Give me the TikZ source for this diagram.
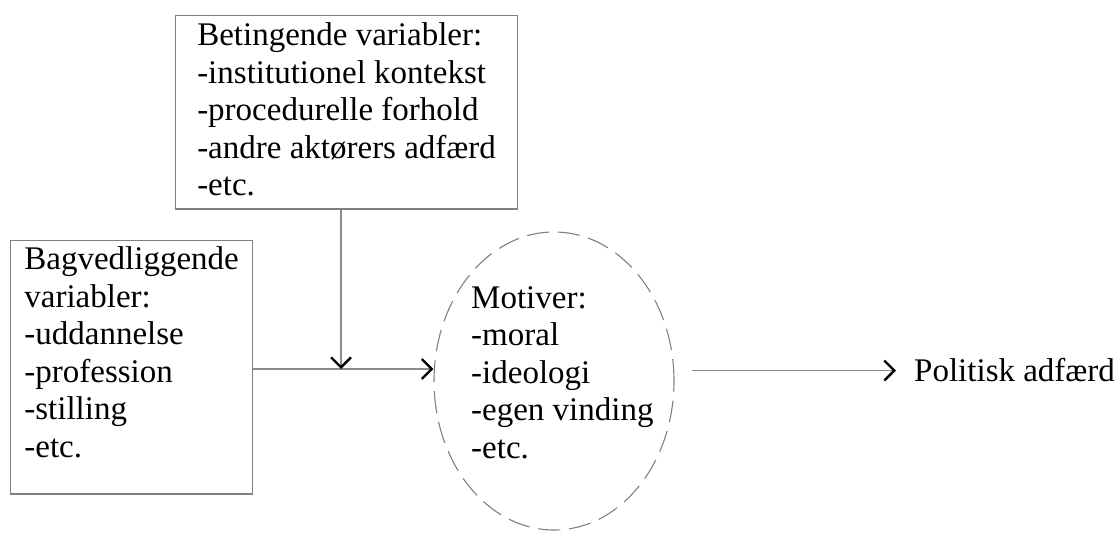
\documentclass[tikz,border=0pt]{standalone}
\usepackage{fontspec}
\setmainfont{Liberation Serif}
\usetikzlibrary{arrows.meta,shapes.geometric}

\tikzset{
  txt/.style={font=\fontsize{33}{37.5}\selectfont, text=black, align=left},
  box/.style={txt, draw=black!50, line width=1.2pt, anchor=north west},
  conn/.style={draw=black!45, line width=1.2pt,
    -{Straight Barb[length=10pt, width=20pt, line width=2.4pt, color=black]}},
  motivring/.style={ellipse, draw=black!50, line width=1.1pt,
    dash pattern=on 22pt off 9pt, minimum width=240pt, minimum height=298pt, inner sep=0pt},
}

\begin{document}
\begin{tikzpicture}[x=1pt, y=-1pt]
  \useasboundingbox (0,0) rectangle (1117,534);

  % conditioning variables
  \node[box, minimum width=342pt, inner xsep=20pt, inner ysep=7.5pt] (tbox) at (175,15)
    {Betingende variabler:\\-institutionel kontekst\\-procedurelle forhold\\-andre aktørers adfærd\\-etc.\rule[-5.5pt]{0pt}{5.5pt}};

  % background variables
  \node[box, minimum width=242pt, inner xsep=12pt, inner ysep=6.5pt] (lbox) at (10,240)
    {Bagvedliggende\\variabler:\\-uddannelse\\-profession\\-stilling\\-etc.\rule[-30pt]{0pt}{30pt}};

  % motives
  \node[motivring] (ell) at (554,381) {};
  \node[txt, inner sep=0pt, anchor=north west] (mtxt) at (471,286)
    {Motiver:\\-moral\\-ideologi\\-egen vinding\\-etc.};

  % outcome
  \node[txt, inner sep=0pt, anchor=base west] (pol) at (914,382) {Politisk adfærd};

  % junction where the conditioning arrow meets the main path
  \coordinate (j) at (341,369);

  \draw[conn] (lbox.east |- j) -- (ell.west |- j);
  \draw[conn] (j |- tbox.south) -- (j);
  \draw[conn, shorten <=17pt, shorten >=18pt] (ell.east |- pol.west) -- (pol.west);
\end{tikzpicture}
\end{document}
